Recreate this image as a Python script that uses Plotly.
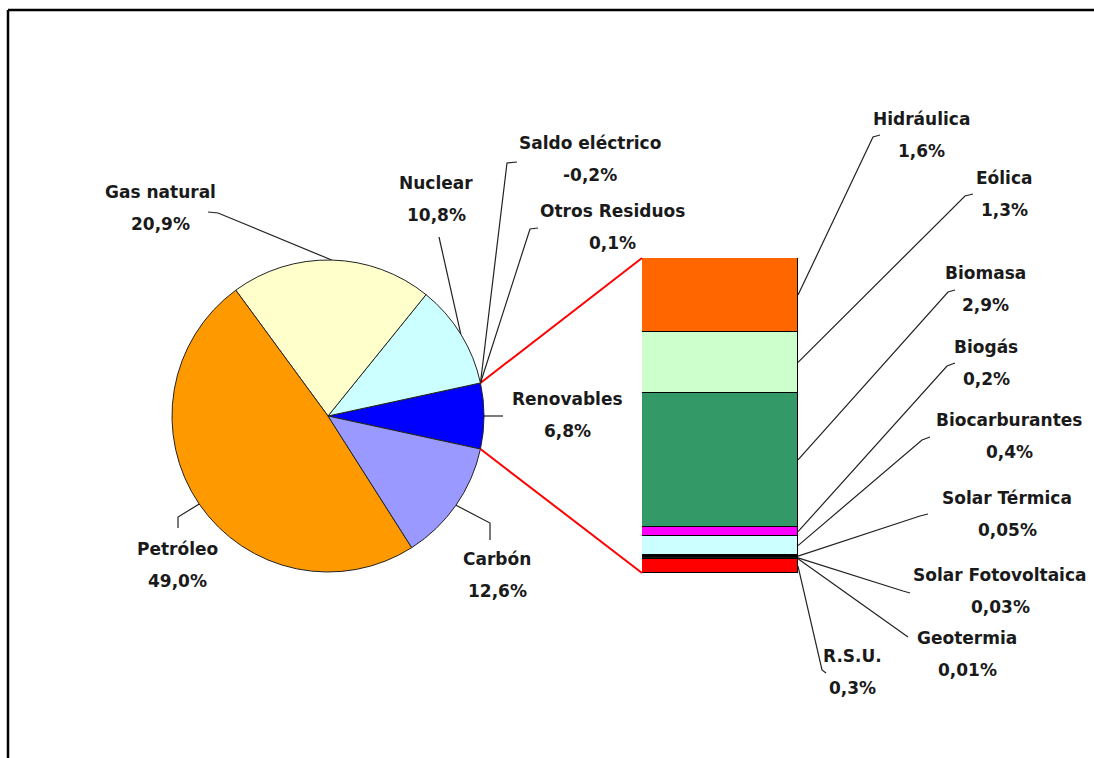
import math
import plotly.graph_objects as go

W, H = 1094, 758

# primary energy mix (pie), counterclockwise from the east
pie_labels = ["Renovables", "Nuclear", "Gas natural", "Petróleo", "Carbón"]
pie_values = [6.8, 10.8, 20.9, 49.0, 12.6]
pie_colors = ["#0000FF", "#CCFFFF", "#FFFFCC", "#FF9900", "#9999FF"]

# items too small to show as slices
minor_labels = ["Saldo eléctrico", "Otros Residuos"]
minor_values = [-0.2, 0.1]

# renewables breakdown (stacked bar), bottom to top
ren_labels = ["R.S.U.", "Geotermia", "Solar Fotovoltaica", "Solar Térmica",
              "Biocarburantes", "Biogás", "Biomasa", "Eólica", "Hidráulica"]
ren_values = [0.3, 0.01, 0.03, 0.05, 0.4, 0.2, 2.9, 1.3, 1.6]
ren_colors = ["#FF0000", "#000000", "#1a1a1a", "#000000",
              "#CCFFFF", "#FF00FF", "#339966", "#CCFFCC", "#FF6600"]

# layout geometry (pixels, y from top)
cx, cy, r = 328, 416, 156
bar_l, bar_r, bar_t, bar_b = 642, 798, 258, 573

# label placement: name centre and leader tail points (label side first)
label_pos = {
    "Gas natural": (160, 192, [(208, 212), (218, 213)]),
    "Nuclear": (436, 183, [(439, 237)]),
    "Saldo eléctrico": (590, 143, [(517, 162), (507, 163)]),
    "Otros Residuos": (612, 211, [(538, 228), (530, 229)]),
    "Renovables": (567, 399, [(503, 416)]),
    "Carbón": (497, 559, [(490, 540), (490, 523)]),
    "Petróleo": (177, 549, [(178, 528), (178, 517)]),
    "Hidráulica": (921, 119, [(880, 135), (873, 137)]),
    "Eólica": (1004, 178, [(973, 194), (965, 196)]),
    "Biomasa": (985, 273, [(955, 290), (948, 292)]),
    "Biogás": (986, 347, [(955, 363), (947, 366)]),
    "Biocarburantes": (1009, 420, [(930, 437), (922, 440)]),
    "Solar Térmica": (1007, 498, [(928, 514), (920, 516)]),
    "Solar Fotovoltaica": (1000, 575, [(910, 593), (903, 591)]),
    "Geotermia": (967, 638, [(908, 637)]),
    "R.S.U.": (852, 656, [(826, 673), (822, 670)]),
}


def pct(v):
    s = f"{v:.1f}" if abs(v) >= 0.1 else f"{v:.2f}"
    return s.replace(".", ",") + "%"


def paper(x, y):
    return x / W, 1 - y / H


def path(points):
    segs = []
    for i, (x, y) in enumerate(points):
        px, py = paper(x, y)
        segs.append(("M" if i == 0 else "L") + f"{px:.5f},{py:.5f}")
    return " ".join(segs)


total = sum(pie_values)
half = 360 * pie_values[0] / total / 2

# anchors on the pie rim (math angles, counterclockwise)
anchors = {}
start = -half
for lab, v in zip(pie_labels, pie_values):
    span = 360 * v / total
    mid = math.radians(start + span / 2)
    anchors[lab] = (cx + r * math.cos(mid), cy - r * math.sin(mid))
    start += span
top_edge = (cx + r * math.cos(math.radians(half)), cy - r * math.sin(math.radians(half)))
bot_edge = (cx + r * math.cos(math.radians(-half)), cy - r * math.sin(math.radians(-half)))
for lab in minor_labels:
    anchors[lab] = top_edge

# anchors on the bar's right edge
ren_total = sum(ren_values)
scale = (bar_b - bar_t) / ren_total
cum = 0
for lab, v in zip(ren_labels, ren_values):
    anchors[lab] = (bar_r, bar_b - (cum + v / 2) * scale)
    cum += v

fig = go.Figure()

fig.add_trace(go.Pie(
    labels=pie_labels, values=pie_values, sort=False,
    direction="counterclockwise", rotation=90 - half,
    marker=dict(colors=pie_colors, line=dict(color="#222222", width=1)),
    textinfo="none", hoverinfo="label+percent", showlegend=False,
    domain=dict(x=[(cx - r) / W, (cx + r) / W],
                y=[(H - cy - r) / H, (H - cy + r) / H]),
))

for lab, v, c in zip(ren_labels, ren_values, ren_colors):
    fig.add_trace(go.Bar(
        x=[0], y=[v], width=1, name=lab, marker_color=c,
        marker_line=dict(color="#000000", width=1.2), showlegend=False,
    ))

shapes = []
# red connectors pie -> bar
for p, q in [(top_edge, (bar_l, bar_t)), (bot_edge, (bar_l, bar_b))]:
    shapes.append(dict(type="path", xref="paper", yref="paper", path=path([p, q]),
                       line=dict(color="#FF0000", width=2)))
# leader lines
for lab, (x, y, tail) in label_pos.items():
    shapes.append(dict(type="path", xref="paper", yref="paper",
                       path=path(tail + [anchors[lab]]),
                       line=dict(color="#222222", width=1.2)))
# frame
shapes.append(dict(type="line", xref="paper", yref="paper",
                   x0=8 / W, x1=1, y0=1 - 10 / H, y1=1 - 10 / H,
                   line=dict(color="#000000", width=2.5)))
shapes.append(dict(type="line", xref="paper", yref="paper",
                   x0=8 / W, x1=8 / W, y0=1 - 10 / H, y1=0,
                   line=dict(color="#000000", width=2.5)))

values = dict(zip(pie_labels + minor_labels + ren_labels,
                  pie_values + minor_values + ren_values))
font = dict(family="DejaVu Sans", size=17, color="#1a1a1a")
annotations = []
for lab, (x, y, _) in label_pos.items():
    for txt, yy in [(lab, y), (pct(values[lab]), y + 32)]:
        px, py = paper(x, yy)
        annotations.append(dict(text=f"<b>{txt}</b>", x=px, y=py, xref="paper", yref="paper",
                                showarrow=False, xanchor="center", yanchor="middle", font=font))

fig.update_layout(
    width=W, height=H,
    margin=dict(l=0, r=0, t=0, b=0),
    paper_bgcolor="white", plot_bgcolor="white",
    barmode="stack", bargap=0,
    xaxis=dict(domain=[bar_l / W, bar_r / W], range=[-0.5, 0.5], visible=False, fixedrange=True),
    yaxis=dict(domain=[(H - bar_b) / H, (H - bar_t) / H], range=[0, ren_total], visible=False, fixedrange=True),
    shapes=shapes,
    annotations=annotations,
)

fig.write_html("out.html", config={"displayModeBar": False},
               post_script="document.body.style.margin='0';document.body.style.overflow='hidden';")
